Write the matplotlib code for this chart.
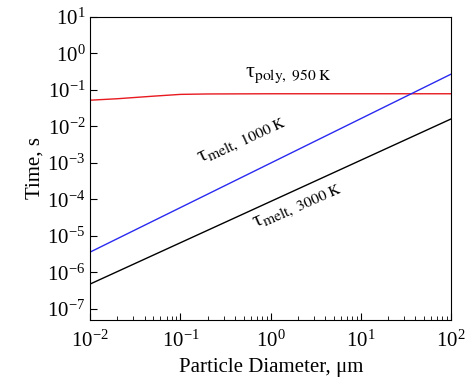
import matplotlib
matplotlib.use("Agg")
import matplotlib.pyplot as plt
import numpy as np

plt.rcParams['font.family'] = ['Liberation Serif', 'DejaVu Serif']
plt.rcParams['mathtext.fontset'] = 'stix'

# datos
d_poly = [0.01, 0.02, 0.05, 0.1, 0.2, 1, 10, 100]
t_poly = [0.052, 0.057, 0.067, 0.075, 0.077, 0.078, 0.078, 0.078]
d_melt = [0.01, 100]
t_melt_1000 = [3.6e-6, 0.27]
t_melt_3000 = [4.8e-7, 0.016]

fig = plt.figure(figsize=(4.7, 3.91), dpi=100)
ax = fig.add_axes([0.192, 0.182, 0.768, 0.775])

ax.plot(d_poly, t_poly, color='#e8191f', lw=1)
ax.plot(d_melt, t_melt_1000, color='#2a2af0', lw=1)
ax.plot(d_melt, t_melt_3000, color='black', lw=1)

ax.set_xscale('log')
ax.set_yscale('log')
ax.set_xlim(1e-2, 1e2)
ax.set_ylim(5e-8, 10)
ax.set_yticks([10.0**k for k in range(-7, 2)])
ax.set_xticks([10.0**k for k in range(-2, 3)])

ax.tick_params(which='both', direction='in', top=False, right=False, labelsize=15)
ax.tick_params(which='major', length=5)
ax.tick_params(which='minor', length=3)
ax.tick_params(axis='x', pad=8)

ax.set_xlabel('Particle Diameter, μm', fontsize=15)
ax.set_ylabel('Time, s', fontsize=15, labelpad=2)

# etiquetas de las curvas (tau recto como en el original)
ax.text(0.43, 0.80, r'τ$_{\rm poly,\ 950\ K}$', transform=ax.transAxes, fontsize=16)
ax.text(0.305, 0.518, r'τ$_{\rm melt,\ 1000\ K}$', transform=ax.transAxes,
        fontsize=16, rotation=25, rotation_mode='anchor', ha='left', va='baseline')
ax.text(0.457, 0.304, r'τ$_{\rm melt,\ 3000\ K}$', transform=ax.transAxes,
        fontsize=16, rotation=24, rotation_mode='anchor', ha='left', va='baseline')

fig.savefig('out.png', dpi=100)
